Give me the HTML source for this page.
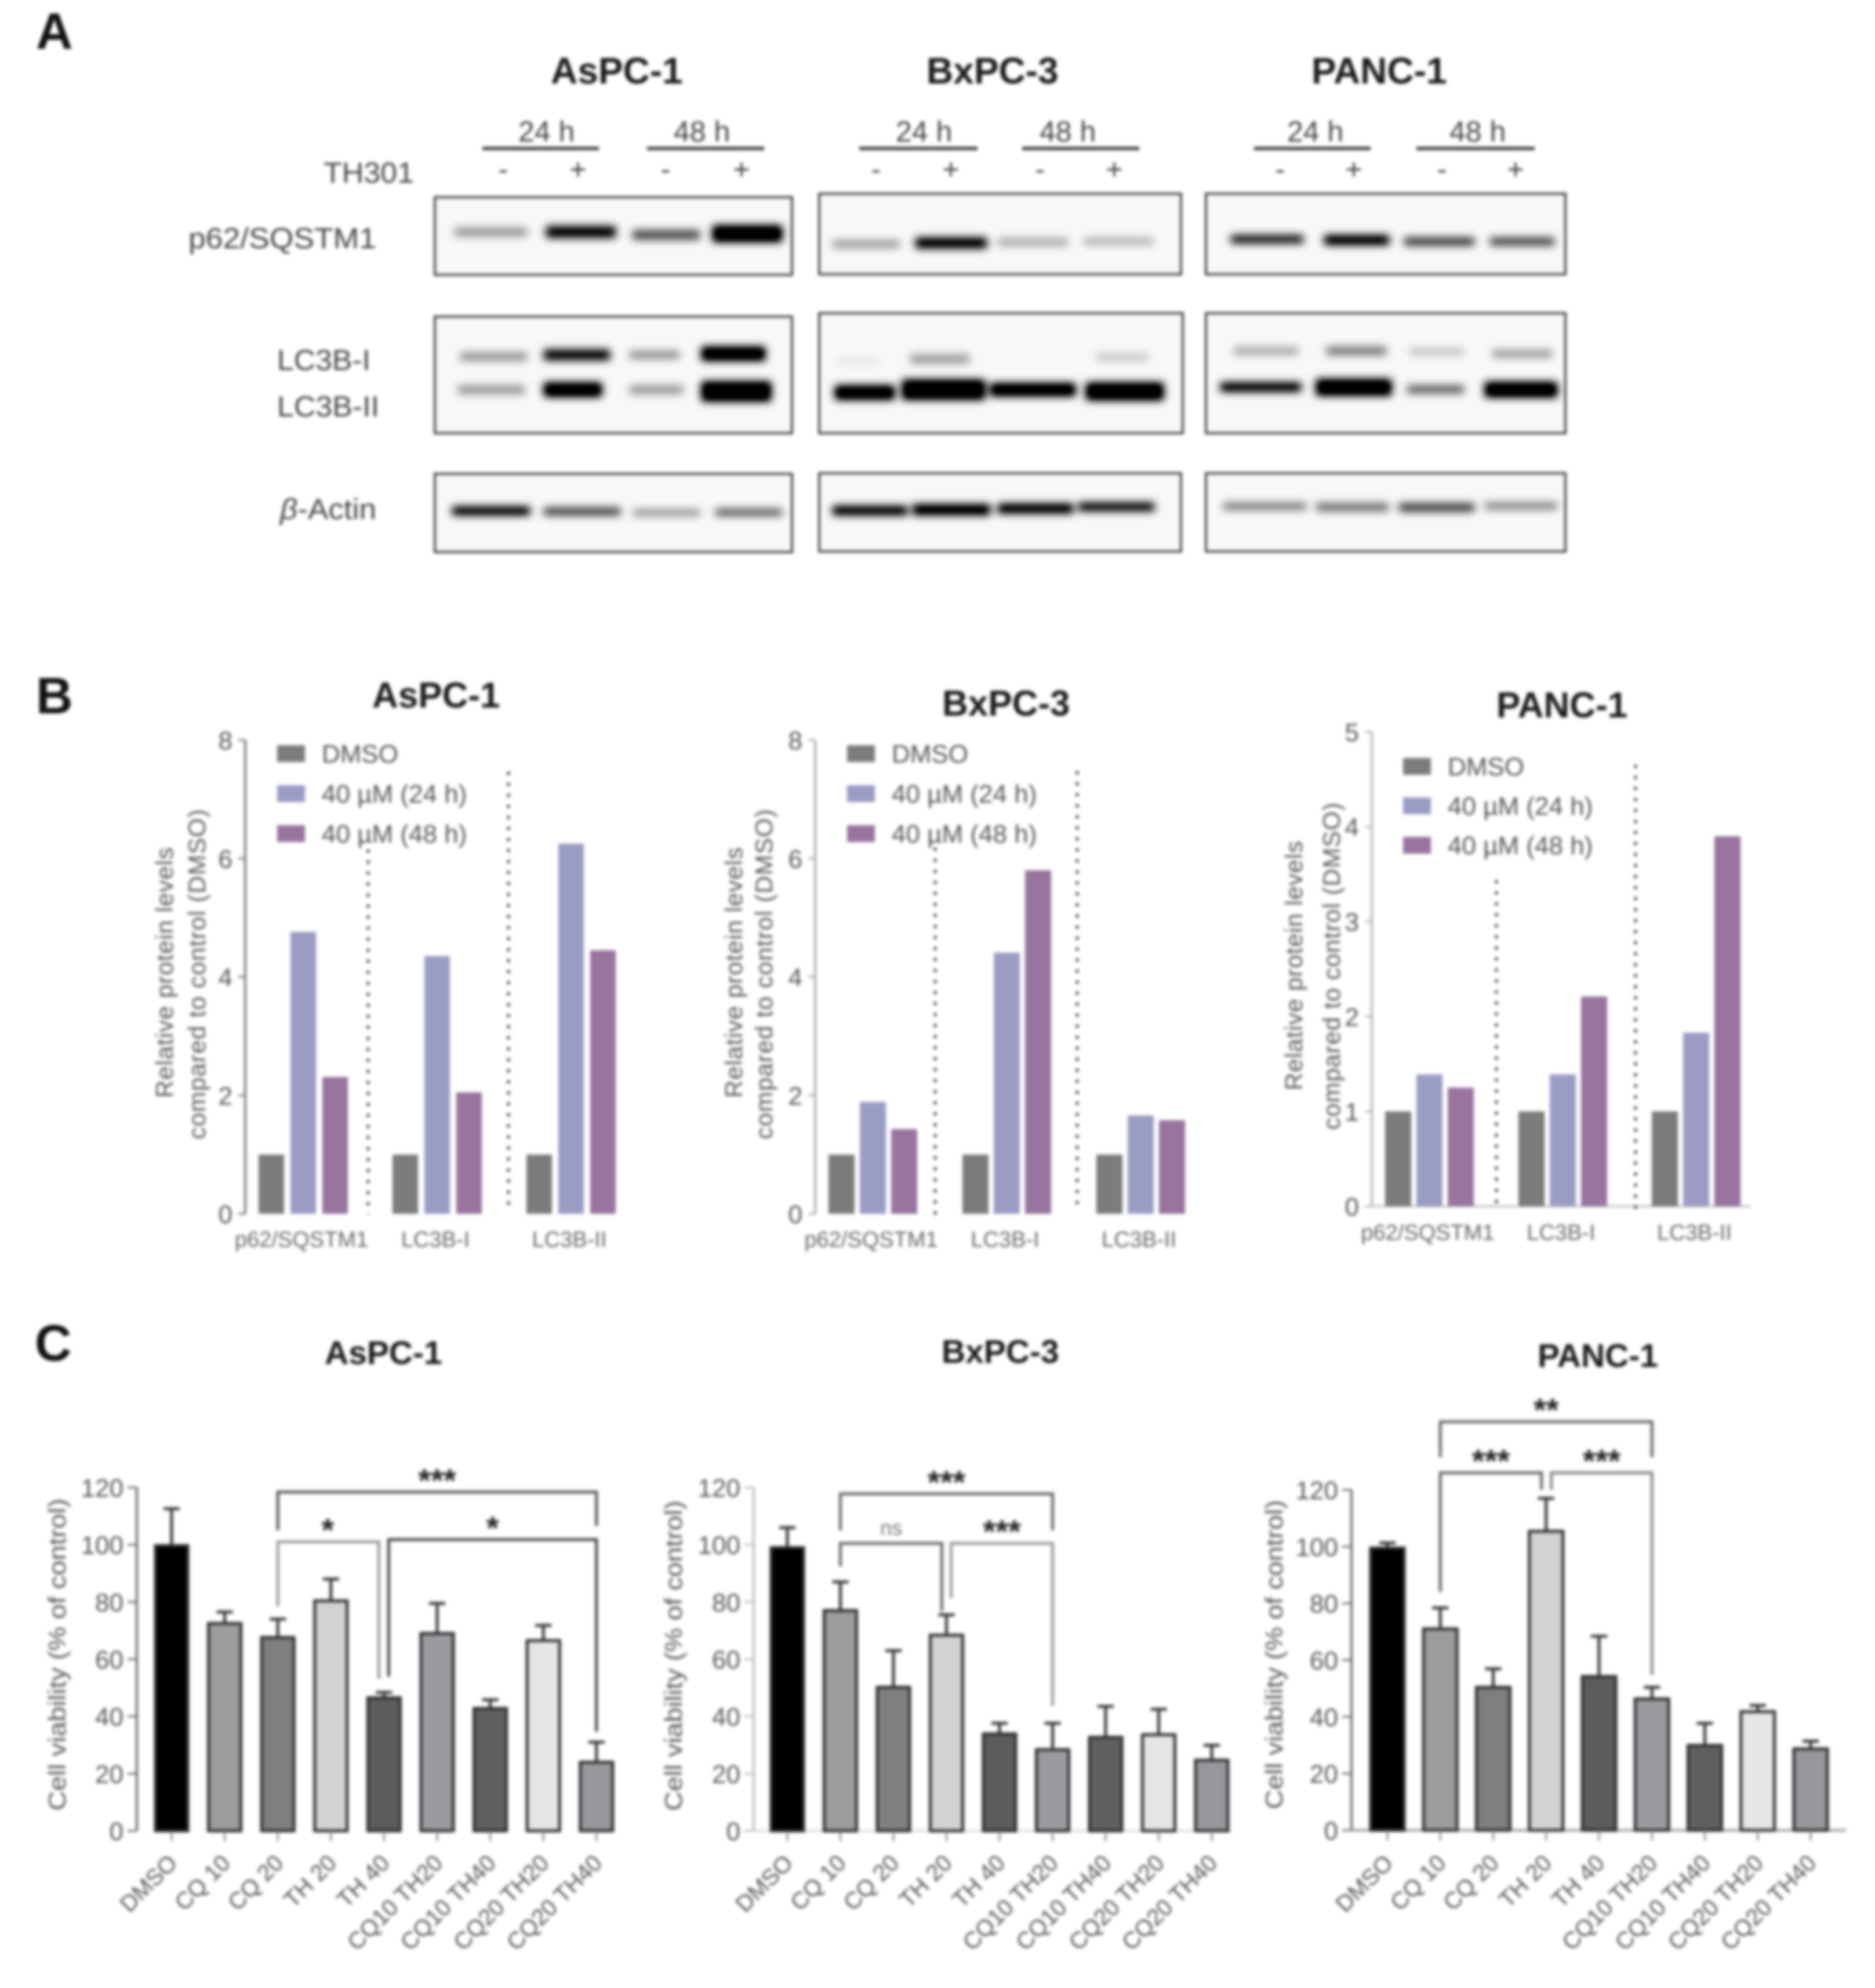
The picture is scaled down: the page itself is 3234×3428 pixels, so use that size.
<!DOCTYPE html>
<html lang="en">
<head>
<meta charset="utf-8">
<title>TH301 western blots, protein levels and cell viability</title>
<style>
html,body{margin:0;padding:0;background:#fff;}
svg{display:block;filter:blur(3px);font-family:"Liberation Sans",sans-serif;}
.letter{font-size:88px;font-weight:bold;fill:#111;}
.h1{font-weight:bold;fill:#1a1a1a;}
.lbl{font-size:50px;fill:#444;}
.ptitle{font-size:42px;fill:#555;}
.frame{fill:#f8f8f8;stroke:#484848;stroke-width:4;}
.rule{stroke:#444;stroke-width:6;}
</style>
</head>
<body>
<svg id="figure" xmlns="http://www.w3.org/2000/svg" width="3234" height="3428" viewBox="0 0 3234 3428">
<defs><filter id="bandBlur" x="-5%" y="-5%" width="110%" height="110%"><feGaussianBlur stdDeviation="7"/><feComponentTransfer><feFuncA type="linear" slope="1.3"/></feComponentTransfer></filter></defs>
<rect width="3234" height="3428" fill="#fff"/>

<!-- Panel A -->
<g>
<text class="letter" x="62" y="84">A</text>
<text class="h1" font-size="64" x="950" y="144">AsPC-1</text>
<text class="h1" font-size="64" x="1598" y="144">BxPC-3</text>
<text class="h1" font-size="64" x="2262" y="144">PANC-1</text>

<text class="lbl" x="894" y="244">24 h</text>
<text class="lbl" x="1162" y="244">48 h</text>
<text class="lbl" x="1545" y="244">24 h</text>
<text class="lbl" x="1793" y="244">48 h</text>
<text class="lbl" x="2220" y="244">24 h</text>
<text class="lbl" x="2500" y="244">48 h</text>
<line class="rule" x1="832" x2="1033" y1="256" y2="256"/>
<line class="rule" x1="1116" x2="1318" y1="256" y2="256"/>
<line class="rule" x1="1482" x2="1686" y1="256" y2="256"/>
<line class="rule" x1="1763" x2="1965" y1="256" y2="256"/>
<line class="rule" x1="2163" x2="2364" y1="256" y2="256"/>
<line class="rule" x1="2443" x2="2647" y1="256" y2="256"/>

<text class="lbl" x="558" y="315" textLength="156" lengthAdjust="spacingAndGlyphs">TH301</text>
<g class="lbl" text-anchor="middle" font-size="50">
<text x="868" y="309">-</text>
<text x="997" y="309">+</text>
<text x="1148" y="309">-</text>
<text x="1279" y="309">+</text>
<text x="1511" y="309">-</text>
<text x="1640" y="309">+</text>
<text x="1794" y="309">-</text>
<text x="1922" y="309">+</text>
<text x="2208" y="309">-</text>
<text x="2335" y="309">+</text>
<text x="2487" y="309">-</text>
<text x="2614" y="309">+</text>
</g>

<text class="lbl" x="325" y="428" textLength="324" lengthAdjust="spacingAndGlyphs">p62/SQSTM1</text>
<text class="lbl" x="478" y="638" textLength="161" lengthAdjust="spacingAndGlyphs">LC3B-I</text>
<text class="lbl" x="478" y="718" textLength="176" lengthAdjust="spacingAndGlyphs">LC3B-II</text>
<text class="lbl" x="483" y="895" textLength="166" lengthAdjust="spacingAndGlyphs"><tspan font-style="italic">β</tspan>-Actin</text>

<rect class="frame" x="750" y="340" width="616" height="134"/>
<rect class="frame" x="750" y="546" width="616" height="201"/>
<rect class="frame" x="750" y="817" width="616" height="135"/>
<rect class="frame" x="1420" y="334" width="624" height="139" transform="translate(-7,0)"/>
<rect class="frame" x="1420" y="540" width="627" height="207" transform="translate(-7,0)"/>
<rect class="frame" x="1420" y="816" width="624" height="135" transform="translate(-7,0)"/>
<rect class="frame" x="2080" y="334" width="620" height="139"/>
<rect class="frame" x="2080" y="540" width="620" height="207"/>
<rect class="frame" x="2080" y="816" width="620" height="135"/>

<g filter="url(#bandBlur)" fill="#000">
<!-- AsPC-1 -->
<rect x="784" y="393" width="125" height="14" opacity=".35"/>
<rect x="942" y="390" width="120" height="20" opacity=".85"/>
<rect x="1091" y="397" width="116" height="16" opacity=".6"/>
<rect x="1229" y="389" width="120" height="28" opacity="1"/>
<rect x="794" y="608" width="115" height="14" opacity=".35"/>
<rect x="938" y="603" width="114" height="18" opacity=".85"/>
<rect x="1086" y="606" width="86" height="12" opacity=".4"/>
<rect x="1210" y="598" width="110" height="24" opacity="1"/>
<rect x="790" y="665" width="115" height="14" opacity=".35"/>
<rect x="938" y="660" width="100" height="24" opacity="1"/>
<rect x="1086" y="665" width="92" height="14" opacity=".35"/>
<rect x="1210" y="658" width="120" height="34" opacity="1"/>
<rect x="780" y="874" width="134" height="14" opacity=".95"/>
<rect x="938" y="876" width="132" height="12" opacity=".7"/>
<rect x="1092" y="879" width="115" height="10" opacity=".4"/>
<rect x="1234" y="878" width="115" height="11" opacity=".6"/>
<!-- BxPC-3 -->
<rect x="1436" y="415" width="116" height="12" opacity=".35"/>
<rect x="1579" y="410" width="123" height="18" opacity=".9"/>
<rect x="1721" y="411" width="121" height="13" opacity=".28"/>
<rect x="1869" y="410" width="120" height="12" opacity=".25"/>
<rect x="1445" y="617" width="71" height="12" opacity=".06"/>
<rect x="1570" y="611" width="102" height="16" opacity=".3"/>
<rect x="1891" y="609" width="89" height="14" opacity=".16"/>
<rect x="1440" y="665" width="103" height="24" opacity="1"/>
<rect x="1556" y="655" width="143" height="34" opacity="1"/>
<rect x="1708" y="661" width="147" height="22" opacity="1"/>
<rect x="1873" y="660" width="134" height="30" opacity="1"/>
<rect x="1436" y="873" width="129" height="15" opacity=".95"/>
<rect x="1574" y="870" width="134" height="18" opacity=".95"/>
<rect x="1721" y="869" width="130" height="16" opacity=".95"/>
<rect x="1860" y="867" width="131" height="14" opacity=".9"/>
<!-- PANC-1 -->
<rect x="2123" y="406" width="125" height="13" opacity=".85"/>
<rect x="2284" y="406" width="112" height="16" opacity=".95"/>
<rect x="2422" y="410" width="121" height="13" opacity=".7"/>
<rect x="2570" y="410" width="111" height="13" opacity=".65"/>
<rect x="2128" y="599" width="111" height="12" opacity=".3"/>
<rect x="2288" y="598" width="103" height="14" opacity=".45"/>
<rect x="2431" y="601" width="94" height="11" opacity=".2"/>
<rect x="2574" y="604" width="103" height="12" opacity=".35"/>
<rect x="2105" y="660" width="139" height="15" opacity=".95"/>
<rect x="2270" y="654" width="130" height="28" opacity="1"/>
<rect x="2427" y="665" width="98" height="13" opacity=".55"/>
<rect x="2561" y="659" width="125" height="26" opacity="1"/>
<rect x="2110" y="867" width="143" height="12" opacity=".45"/>
<rect x="2270" y="868" width="125" height="13" opacity=".5"/>
<rect x="2413" y="868" width="130" height="14" opacity=".65"/>
<rect x="2561" y="867" width="125" height="11" opacity=".45"/>
</g>
</g>

<!-- Panel B -->
<g>
<text class="letter" x="62" y="1230">B</text>
<text class="h1" font-size="62" x="642" y="1220">AsPC-1</text>
<text class="h1" font-size="62" x="1625" y="1234">BxPC-3</text>
<text class="h1" font-size="62" x="2581" y="1237">PANC-1</text>
<g text-anchor="middle">
<text class="ptitle" transform="translate(298,1677) rotate(-90)" textLength="432">Relative protein levels</text>
<text class="ptitle" transform="translate(354,1680) rotate(-90)" textLength="569">compared to control (DMSO)</text>
<text class="ptitle" transform="translate(1280,1677) rotate(-90)" textLength="432">Relative protein levels</text>
<text class="ptitle" transform="translate(1332,1680) rotate(-90)" textLength="569">compared to control (DMSO)</text>
<text class="ptitle" transform="translate(2246,1665) rotate(-90)" textLength="430">Relative protein levels</text>
<text class="ptitle" transform="translate(2311,1666) rotate(-90)" textLength="564">compared to control (DMSO)</text>
</g>
<g id="proteinCharts"></g>
</g>

<!-- Panel C -->
<g>
<text class="letter" x="60" y="2346">C</text>
<text class="h1" font-size="57" x="560" y="2352">AsPC-1</text>
<text class="h1" font-size="57" x="1624" y="2350">BxPC-3</text>
<text class="h1" font-size="57" x="2652" y="2357">PANC-1</text>
<g text-anchor="middle">
<text class="ptitle" font-size="44" transform="translate(113,2853) rotate(-90)" textLength="538" lengthAdjust="spacingAndGlyphs">Cell viability (% of control)</text>
<text class="ptitle" font-size="44" transform="translate(1176,2855) rotate(-90)" textLength="535" lengthAdjust="spacingAndGlyphs">Cell viability (% of control)</text>
<text class="ptitle" font-size="44" transform="translate(2212,2853) rotate(-90)" textLength="533" lengthAdjust="spacingAndGlyphs">Cell viability (% of control)</text>
</g>
<g id="viabilityCharts"></g>
</g>
</svg>

<script>
// ---- Panel B data ----
const proteinCategories = ['p62/SQSTM1', 'LC3B-I', 'LC3B-II'];
const legendLabels = ['DMSO', '40 µM (24 h)', '40 µM (48 h)'];
const proteinTicksAspc = [0, 2, 4, 6, 8];
const proteinTicksBxpc = [0, 2, 4, 6, 8];
const proteinTicksPanc = [0, 1, 2, 3, 4, 5];
const aspcDmso = [1, 1, 1];
const aspc24h = [4.76, 4.35, 6.25];
const aspc48h = [2.31, 2.05, 4.45];
const bxpcDmso = [1, 1, 1];
const bxpc24h = [1.89, 4.41, 1.66];
const bxpc48h = [1.43, 5.8, 1.58];
const pancDmso = [1, 1, 1];
const panc24h = [1.39, 1.39, 1.83];
const panc48h = [1.25, 2.21, 3.9];

// ---- Panel C data ----
const viabilityCategories = ['DMSO', 'CQ 10', 'CQ 20', 'TH 20', 'TH 40', 'CQ10 TH20', 'CQ10 TH40', 'CQ20 TH20', 'CQ20 TH40'];
const viabilityTicks = [0, 20, 40, 60, 80, 100, 120];
const aspcViability = [99.7, 72.5, 67.6, 80.4, 46.5, 69, 42.8, 66.5, 24];
const aspcError = [12.9, 4, 6.4, 7.6, 1.9, 10.5, 3, 5.3, 7];
const bxpcViability = [99, 77, 50.2, 68.4, 33.9, 28.4, 32.7, 33.6, 24.7];
const bxpcError = [7, 10, 12.8, 7.1, 3.7, 9.2, 10.8, 8.9, 5.2];
const pancViability = [99.5, 71, 50.4, 105.4, 54.2, 46.3, 29.9, 41.8, 28.7];
const pancError = [1.8, 7.4, 6.5, 11.6, 14.2, 4.1, 7.8, 2.2, 2.7];

const SVGNS = 'http://www.w3.org/2000/svg';
function el(tag, attrs, parent) {
  const node = document.createElementNS(SVGNS, tag);
  for (const k in attrs) node.setAttribute(k, attrs[k]);
  parent.appendChild(node);
  return node;
}

const seriesColors = ['#7c7c7a', '#9a9cc4', '#98749f'];
const barFills = ['#000000', '#9c9c9c', '#7f7f7f', '#d2d2d2', '#5c5c5c', '#9a9a9f', '#606060', '#e6e6e6', '#98989c'];

function drawProteinChart(root, o, series, ticks) {
  const g = el('g', {}, root);
  
  
  const maxTick = ticks[ticks.length - 1];
  const yScale = v => o.y0 - v * (o.y0 - o.yTop) / maxTick;
  const groupX = (i, s) => o.first + i * o.groupStep + s * o.barStep;

  const axis = el('line', {x1: o.axisX, x2: o.axisX, y1: o.yTop, y2: o.y0, stroke: o.axisColor, 'stroke-width': 4}, g);
  
  
  if (o.xAxisEnd) {
    const xAxis = el('line', {x1: o.axisX, x2: o.xAxisEnd, y1: o.y0, y2: o.y0, stroke: '#c8c8c8', 'stroke-width': 4}, g);
    
    
  }
  ticks.forEach(t => {
    const tick = el('line', {x1: o.axisX - 12, x2: o.axisX, y1: yScale(t), y2: yScale(t), stroke: o.axisColor, 'stroke-width': 3}, g);
    
    
    const label = el('text', {x: o.axisX - 22, y: yScale(t) + 16, 'text-anchor': 'end', 'font-size': 44, fill: '#555'}, g);
    label.textContent = t;
    
    
  });
  series.forEach((values, s) => {
    values.forEach((v, i) => {
      const bar = el('rect', {x: groupX(i, s), y: yScale(v), width: o.barW, height: o.y0 - yScale(v), fill: seriesColors[s]}, g);
      
      
    });
  });
  proteinCategories.forEach((c, i) => {
    const label = el('text', {x: groupX(i, 1) + o.barW / 2 - 3, y: o.labelY, 'text-anchor': 'middle', 'font-size': 38, fill: '#666'}, g);
    label.textContent = c;
    
    
  });
  o.dividers.forEach(d => {
    const line = el('line', {x1: d[0], x2: d[0], y1: d[1], y2: d[2], stroke: '#333', 'stroke-width': 5, 'stroke-dasharray': '5 14'}, g);
    
    
  });
  legendLabels.forEach((name, s) => {
    const swatch = el('rect', {x: o.legendX, y: o.legendY[s], width: 48, height: 29, fill: seriesColors[s]}, g);
    
    
    const text = el('text', {x: o.legendX + 77, y: o.legendY[s] + 30, 'font-size': 44, fill: '#555'}, g);
    text.textContent = name;
    
    
  });
}

function drawViabilityChart(root, o, values, errors, brackets) {
  const g = el('g', {}, root);
  
  
  const maxTick = viabilityTicks[viabilityTicks.length - 1];
  const yScale = v => o.y0 - v * (o.y0 - o.yTop) / maxTick;
  const xScale = i => o.x0 + i * o.step;

  const axis = el('line', {x1: o.axisX, x2: o.axisX, y1: o.yTop, y2: o.y0, stroke: o.axisColor, 'stroke-width': 4}, g);
  
  
  const xAxis = el('line', {x1: o.axisX, x2: o.xEnd, y1: o.y0, y2: o.y0, stroke: o.xAxisColor, 'stroke-width': 4}, g);
  
  
  viabilityTicks.forEach(t => {
    const tick = el('line', {x1: o.axisX - 16, x2: o.axisX, y1: yScale(t), y2: yScale(t), stroke: o.axisColor, 'stroke-width': 3}, g);
    
    
    const label = el('text', {x: o.axisX - 23, y: yScale(t) + 16, 'text-anchor': 'end', 'font-size': 44, fill: '#555'}, g);
    label.textContent = t;
    
    
  });
  values.forEach((v, i) => {
    const cx = xScale(i);
    const stem = el('line', {x1: cx, x2: cx, y1: yScale(v), y2: yScale(v + errors[i]), stroke: '#333', 'stroke-width': 5}, g);
    
    
    const cap = el('line', {x1: cx - 14, x2: cx + 14, y1: yScale(v + errors[i]), y2: yScale(v + errors[i]), stroke: '#333', 'stroke-width': 5}, g);
    
    
    const bar = el('rect', {x: cx - o.barW / 2, y: yScale(v), width: o.barW, height: o.y0 - yScale(v), fill: barFills[i], stroke: '#2e2e2e', 'stroke-width': 5}, g);
    
    
    const tick = el('line', {x1: cx, x2: cx, y1: o.y0, y2: o.y0 + 18, stroke: '#888', 'stroke-width': 3}, g);
    
    
    const label = el('text', {transform: 'translate(' + (cx + 12) + ',3215) rotate(-45)', 'text-anchor': 'end', 'font-size': 40, fill: '#555'}, g);
    label.textContent = viabilityCategories[i];
    
    
  });
  brackets.forEach(b => {
    const xa = xScale(b.from) + (b.fromShift || 0);
    const xb = xScale(b.to) + (b.toShift || 0);
    const path = el('path', {d: 'M' + xa + ' ' + yScale(b.fromEnd) + 'V' + yScale(b.level) + 'H' + xb + 'V' + yScale(b.toEnd), fill: 'none', stroke: b.color, 'stroke-width': 5}, g);
    
    
    const ns = b.mark === 'ns';
    const mark = el('text', {x: (xa + xb) / 2 + (b.markShift || 0), y: yScale(b.level) + (ns ? -14 : -1), 'text-anchor': 'middle', 'font-size': ns ? 36 : 56, 'font-weight': ns ? 'normal' : 'bold', fill: ns ? '#777' : '#222'}, g);
    mark.textContent = b.mark;
    
    
  });
}

const proteinRoot = document.getElementById('proteinCharts');
drawProteinChart(proteinRoot, {
  axisX: 423, axisColor: '#777', y0: 2093, yTop: 1276, first: 446, groupStep: 231, barStep: 55, barW: 44,
  labelY: 2150, dividers: [[635, 1465, 2093], [877, 1331, 2081]], legendX: 478, legendY: [1285, 1354, 1423]
}, [aspcDmso, aspc24h, aspc48h], proteinTicksAspc);
drawProteinChart(proteinRoot, {
  axisX: 1406, axisColor: '#aaa', y0: 2093, yTop: 1276, first: 1429, groupStep: 231, barStep: 54, barW: 45,
  labelY: 2150, dividers: [[1613, 1462, 2094], [1858, 1330, 2088]], legendX: 1461, legendY: [1285, 1354, 1423]
}, [bxpcDmso, bxpc24h, bxpc48h], proteinTicksBxpc);
drawProteinChart(proteinRoot, {
  axisX: 2366, axisColor: '#b5b5b5', xAxisEnd: 3019, y0: 2080, yTop: 1262, first: 2389, groupStep: 230, barStep: 54, barW: 45,
  labelY: 2138, dividers: [[2581, 1518, 2080], [2821, 1319, 2084]], legendX: 2420, legendY: [1307, 1375, 1443]
}, [pancDmso, panc24h, panc48h], proteinTicksPanc);

const viabilityRoot = document.getElementById('viabilityCharts');
drawViabilityChart(viabilityRoot, {
  axisX: 236, axisColor: '#666', xEnd: 236, xAxisColor: '#666', y0: 3157, yTop: 2565, x0: 296, step: 91.6, barW: 56
}, aspcViability, aspcError, [
  {from: 2, to: 8, level: 118.4, fromEnd: 105, toEnd: 106.6, mark: '***', color: '#555'},
  {from: 2, to: 4, toShift: -9, level: 101, fromEnd: 78.4, toEnd: 53.1, mark: '*', color: '#999', markShift: -1},
  {from: 4, fromShift: 8, to: 8, level: 101.8, fromEnd: 53.9, toEnd: 34.7, mark: '*', color: '#444'}
]);
drawViabilityChart(viabilityRoot, {
  axisX: 1300, axisColor: '#bbb', xEnd: 2125, xAxisColor: '#ddd', y0: 3157, yTop: 2565, x0: 1358, step: 91.5, barW: 56
}, bxpcViability, bxpcError, [
  {from: 1, to: 5, level: 117.8, fromEnd: 105, toEnd: 105, mark: '***', color: '#666'},
  {from: 1, to: 3, toShift: -8, level: 100.5, fromEnd: 92.4, toEnd: 76.8, mark: 'ns', color: '#666'},
  {from: 3, fromShift: 8, to: 5, level: 100.5, fromEnd: 81.3, toEnd: 43.6, mark: '***', color: '#999'}
]);
drawViabilityChart(viabilityRoot, {
  axisX: 2331, axisColor: '#666', xEnd: 3184, xAxisColor: '#999', y0: 3156, yTop: 2569, x0: 2393, step: 91.25, barW: 58
}, pancViability, pancError, [
  {from: 1, to: 5, level: 144, fromEnd: 131.5, toEnd: 131.5, mark: '**', color: '#666'},
  {from: 1, to: 3, toShift: -8, level: 126, fromEnd: 84, toEnd: 120, mark: '***', color: '#666'},
  {from: 3, fromShift: 9, to: 5, level: 126, fromEnd: 120, toEnd: 54.8, mark: '***', color: '#888'}
]);
</script>
</body>
</html>
